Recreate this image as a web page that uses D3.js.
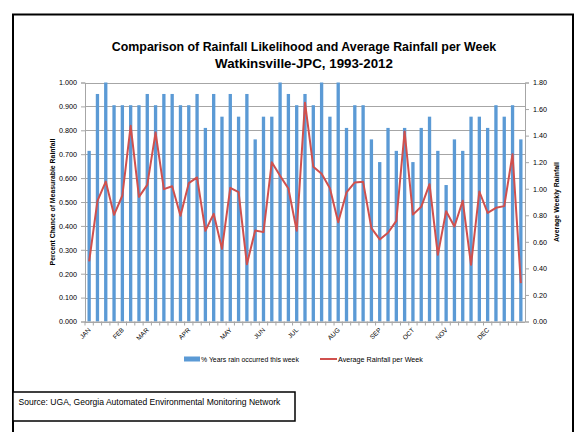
<!DOCTYPE html>
<html><head><meta charset="utf-8">
<script src="https://cdn.jsdelivr.net/npm/d3@7"></script>
<style>body{margin:0;background:#fff}svg{display:block}text{font-family:"Liberation Sans",Arial,sans-serif;fill:#000}</style>
</head><body><svg id="c" width="581" height="432"></svg>
<script>
const weeks = d3.range(1, 54);
const pctYears = [0.714,0.952,1.000,0.905,0.905,0.905,0.905,0.952,0.905,0.952,0.952,0.905,0.905,
  0.952,0.810,0.952,0.857,0.952,0.857,0.952,0.762,0.857,0.857,1.000,0.952,0.905,0.952,
  0.905,1.000,0.857,1.000,0.810,0.905,0.905,0.762,0.667,0.810,0.714,0.810,0.667,
  0.810,0.857,0.714,0.571,0.762,0.714,0.857,0.857,0.810,0.905,0.857,0.905,0.762];
const avgRain = [0.452,0.909,1.054,0.803,0.949,1.474,0.939,1.029,1.423,0.997,1.019,0.796,1.042,
  1.085,0.683,0.811,0.547,1.007,0.974,0.432,0.685,0.673,1.200,1.097,1.002,0.683,1.648,
  1.165,1.112,1.004,0.748,0.972,1.047,1.052,0.703,0.618,0.668,0.758,1.431,0.805,
  0.864,1.034,0.502,0.831,0.715,0.909,0.427,0.979,0.818,0.856,0.869,1.260,0.289];
const monthNames = ["JAN","FEB","MAR","APR","MAY","JUN","JUL","AUG","SEP","OCT","NOV","DEC"];
const monthWeeks = [1,5,8,13,18,22,26,31,36,40,44,49];
const leftTicks = [0,0.1,0.2,0.3,0.4,0.5,0.6,0.7,0.8,0.9,1.0];
const rightTicks = [0,0.2,0.4,0.6,0.8,1.0,1.2,1.4,1.6,1.8];

const svg = d3.select("#c");
const X0 = 85, X1 = 525, Y0 = 321.5, Y1 = 82.5;
const x = d3.scaleBand().domain(weeks).range([X0, X1]).paddingInner(0.6).paddingOuter(0.3);
const yL = d3.scaleLinear().domain([0, 1]).range([Y0, Y1]);
const yR = d3.scaleLinear().domain([0, 1.8]).range([Y0, Y1]);

function fit(sel, w) {
  const n = sel.node(); const fs = parseFloat(sel.attr("font-size"));
  const cur = n.getComputedTextLength(); sel.attr("font-size", fs * w / cur);
}

// frame
svg.append("rect").attr("x", 13).attr("y", 14.5).attr("width", 560).attr("height", 440)
  .attr("fill", "none").attr("stroke", "#000").attr("stroke-width", 2);

// title
const t1 = svg.append("text").attr("x", 304).attr("y", 51).attr("text-anchor", "middle")
  .attr("font-weight", "bold").attr("font-size", 12).text("Comparison of Rainfall Likelihood and Average Rainfall per Week");
fit(t1, 385);
const t2 = svg.append("text").attr("x", 304).attr("y", 68).attr("text-anchor", "middle")
  .attr("font-weight", "bold").attr("font-size", 12).text("Watkinsville-JPC, 1993-2012");
fit(t2, 178);

// gridlines
svg.append("g").selectAll("line").data(leftTicks).join("line")
  .attr("x1", X0).attr("x2", X1).attr("y1", d => Math.round(yL(d)) + 0.5).attr("y2", d => Math.round(yL(d)) + 0.5)
  .attr("stroke", "#a6a6a6").attr("stroke-width", 1);

// left axis
const gl = svg.append("g").attr("transform", `translate(${X0},0)`)
  .call(d3.axisLeft(yL).tickValues(leftTicks).tickFormat(d3.format(".3f")).tickSize(4).tickPadding(4));
gl.select(".domain").attr("stroke", "#a6a6a6");
gl.selectAll(".tick line").attr("stroke", "#a6a6a6");
gl.selectAll("text").attr("font-size", 7.2).attr("font-family", "Liberation Sans, Arial, sans-serif").attr("fill", "#222");

// right axis
const gr = svg.append("g").attr("transform", `translate(${X1},0)`)
  .call(d3.axisRight(yR).tickValues(rightTicks).tickFormat(d3.format(".2f")).tickSize(4).tickPadding(4));
gr.select(".domain").attr("stroke", "#a6a6a6");
gr.selectAll(".tick line").attr("stroke", "#a6a6a6");
gr.selectAll("text").attr("font-size", 7.2).attr("font-family", "Liberation Sans, Arial, sans-serif").attr("fill", "#222");

// bars
svg.append("g").selectAll("rect").data(weeks).join("rect")
  .attr("x", d => x(d)).attr("width", x.bandwidth())
  .attr("y", (d, i) => yL(pctYears[i])).attr("height", (d, i) => Y0 - yL(pctYears[i]))
  .attr("fill", "#5b9ad5");

// x axis line and ticks
const step = x.step();
svg.append("line").attr("x1", X0).attr("x2", X1).attr("y1", Y0 + 0.5).attr("y2", Y0 + 0.5).attr("stroke", "#a6a6a6");
svg.append("g").selectAll("line").data(weeks).join("line")
  .attr("x1", d => x(d) + x.bandwidth() / 2 - step / 2).attr("x2", d => x(d) + x.bandwidth() / 2 - step / 2)
  .attr("y1", Y0).attr("y2", Y0 + 4).attr("stroke", "#a6a6a6");

// line
const line = d3.line().x((d, i) => x(weeks[i]) + x.bandwidth() / 2).y(d => yR(d));
svg.append("path").datum(avgRain).attr("d", line).attr("fill", "none")
  .attr("stroke", "#d0504d").attr("stroke-width", 2).attr("stroke-linejoin", "round");

// month labels
svg.append("g").selectAll("text").data(monthNames).join("text")
  .attr("transform", (d, i) => `translate(${x(monthWeeks[i]) + x.bandwidth() / 2 + 2},${Y0 + 9}) rotate(-45)`)
  .attr("text-anchor", "end").attr("font-size", 6.5).attr("fill", "#222").text(d => d);

// axis titles
const lt = svg.append("text").attr("transform", "translate(55,202) rotate(-90)").attr("text-anchor", "middle")
  .attr("font-weight", "bold").attr("font-size", 7).text("Percent Chance of Measurable Rainfall");
fit(lt, 127);
const rt = svg.append("text").attr("transform", "translate(559,202) rotate(-90)").attr("text-anchor", "middle")
  .attr("font-weight", "bold").attr("font-size", 7).text("Average Weekly Rainfall");
fit(rt, 80);

// legend
svg.append("rect").attr("x", 184).attr("y", 356.5).attr("width", 16).attr("height", 5).attr("fill", "#5b9ad5");
const l1 = svg.append("text").attr("x", 201).attr("y", 361.5).attr("font-size", 6.5).attr("fill", "#222").text("% Years rain occurred this week");
fit(l1, 98);
svg.append("line").attr("x1", 320).attr("x2", 337).attr("y1", 359).attr("y2", 359).attr("stroke", "#d0504d").attr("stroke-width", 2);
const l2 = svg.append("text").attr("x", 338).attr("y", 361.5).attr("font-size", 6.5).attr("fill", "#222").text("Average Rainfall per Week");
fit(l2, 85);

// source box
svg.append("rect").attr("x", 13).attr("y", 392).attr("width", 282).attr("height", 29)
  .attr("fill", "#fff").attr("stroke", "#000").attr("stroke-width", 1.5);
const src = svg.append("text").attr("x", 18.5).attr("y", 404.5).attr("font-size", 9)
  .text("Source: UGA, Georgia Automated Environmental Monitoring Network");
fit(src, 262);
</script></body></html>
